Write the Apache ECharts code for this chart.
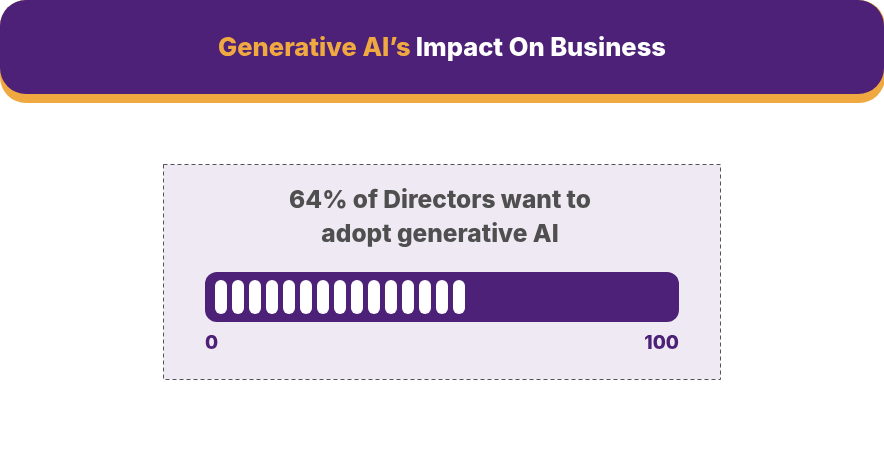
<!DOCTYPE html>
<html>
<head>
<meta charset="utf-8">
<style>
html, body { margin: 0; padding: 0; background: #fff; }
#main { width: 884px; height: 451px; }
</style>
<script src="https://cdn.jsdelivr.net/npm/echarts@6/dist/echarts.min.js"></script>
</head>
<body>
<div id="main"></div>
<script>
var categories = ['Directors'];
var adoptValues = [64];
var scaleValues = [100];
var pillCount = 15;
var pillsEnd = 52.74; // the pills stop short of 64 in the source picture
var titleLead = 'Generative AI’s';
var titleRest = 'Impact On Business';
var headline = '64% of Directors want to\nadopt generative AI';

var purple = '#4c2177';
var orange = '#f0a941';
var font = 'Inter, "Open Sans", sans-serif';
var pill = 'path://M6 0a6 6 0 0 1 6 6v22a6 6 0 0 1-6 6a6 6 0 0 1-6-6v-22a6 6 0 0 1 6-6z';

var chart = echarts.init(document.getElementById('main'), null, { renderer: 'canvas' });
chart.setOption({
    animation: false,
    backgroundColor: '#fff',
    title: [
        {
            text: '{a|' + titleLead + '} {b|' + titleRest + '}',
            left: 442,
            top: 48,
            textAlign: 'center',
            textVerticalAlign: 'middle',
            textStyle: {
                rich: {
                    a: { color: orange, fontFamily: font, fontSize: 25.5, fontWeight: 800 },
                    b: { color: '#fff', fontFamily: font, fontSize: 25.5, fontWeight: 800 }
                }
            },
            padding: 0
        },
        {
            text: headline,
            left: 440,
            top: 218,
            textAlign: 'center',
            textVerticalAlign: 'middle',
            textStyle: { color: '#4f4f4f', fontFamily: font, fontSize: 24.5, fontWeight: 800, lineHeight: 34 },
            padding: 0
        }
    ],
    graphic: [
        // header and panel sit behind the chart
        { type: 'rect', z: -10, silent: true, shape: { x: 0, y: 0, width: 885, height: 103, r: 26 }, style: { fill: orange } },
        { type: 'rect', z: -9, silent: true, shape: { x: 0, y: 0, width: 884, height: 94, r: 26 }, style: { fill: purple } },
        {
            type: 'rect', z: -8, silent: true,
            shape: { x: 163.5, y: 164.5, width: 557, height: 215 },
            style: { fill: '#efe9f3', stroke: '#555', lineWidth: 1, lineDash: [4, 3] }
        }
    ],
    grid: { left: 205, right: 205, top: 272, height: 50 },
    xAxis: {
        type: 'value',
        min: 0,
        max: scaleValues[0],
        interval: scaleValues[0],
        axisLine: { show: false },
        axisTick: { show: false },
        splitLine: { show: false },
        axisLabel: {
            color: purple,
            fontFamily: font,
            fontSize: 19,
            fontWeight: 800,
            margin: 12,
            alignMinLabel: 'left',
            alignMaxLabel: 'right'
        }
    },
    yAxis: { type: 'category', data: categories, show: false },
    series: [
        {
            type: 'bar',
            data: scaleValues,
            barWidth: 50,
            itemStyle: { color: purple, borderRadius: 12 },
            silent: true
        },
        {
            type: 'pictorialBar',
            data: adoptValues,
            barGap: '-100%',
            z: 5,
            symbol: pill,
            symbolRepeat: pillCount,
            symbolBoundingData: pillsEnd,
            symbolSize: [12, 34],
            symbolMargin: 5,
            symbolPosition: 'start',
            symbolOffset: [10, 0],
            itemStyle: { color: '#fff' },
            silent: true
        }
    ]
});
</script>
</body>
</html>
